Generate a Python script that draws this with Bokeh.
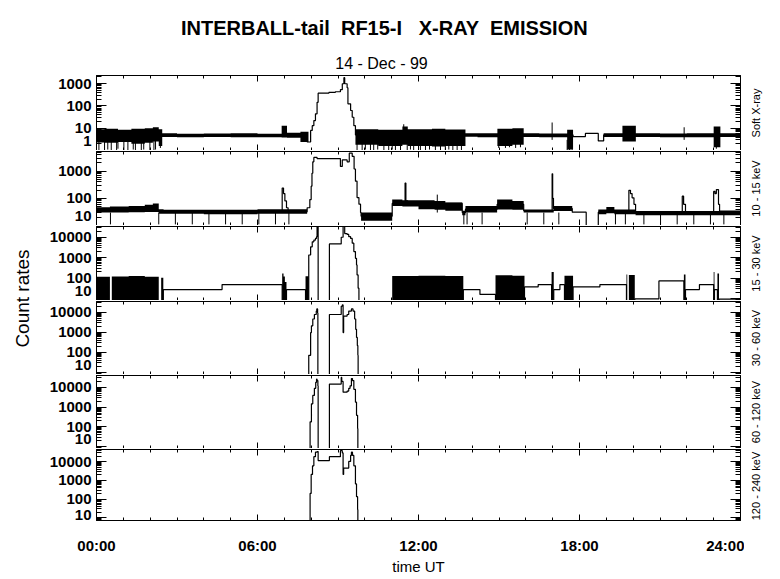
import math
from bokeh.plotting import figure
from bokeh.models import (Range1d, FixedTicker, SingleIntervalTicker, LinearAxis, LogAxis, Label)
from bokeh.layouts import column, row
from bokeh.embed import file_html
from bokeh.resources import INLINE

# ---------------- texts ----------------
title_text = "INTERBALL-tail \u00a0RF15-I \u00a0\u00a0X-RAY \u00a0EMISSION"
date_text = "14 - Dec - 99"
ylabel_text = "Count rates"
xlabel_text = "time UT"
channel_names = ["Soft X-ray", "10 - 15 keV", "15 - 30 keV",
                 "30 - 60 keV", "60 - 120 keV", "120 - 240 keV"]
xtick_vals = [0, 6, 12, 18, 24]
xtick_labels = ["00:00", "06:00", "12:00", "18:00", "24:00"]

# ---------------- axes ranges / ticks ----------------
y_ranges = [(1, 2300), (10, 5300), (8, 33600), (8, 34000), (8, 40000), (7, 46000)]
y_majors = [[1, 10, 100, 1000], [10, 100, 1000], [10, 100, 1000, 10000],
            [10, 100, 1000, 10000], [10, 100, 1000, 10000], [10, 100, 1000, 10000]]

# ---------------- panel 1 : Soft X-ray ----------------
p1_band_t = [0.0, 0.3, 0.8, 1.3, 1.8, 2.1, 2.32, 2.45, 3.0, 4.0, 5.0, 6.0, 6.9, 7.1, 7.6, 7.9,
             9.65, 10.5, 11.4, 11.6, 12.5, 13.0, 13.75, 14.2, 14.94, 15.5, 15.92, 16.5, 17.54,
             17.76, 18.9, 19.6, 20.1, 21.0, 22.0, 23.0, 23.25, 24.0]
p1_band_lo = [2.3, 2.2, 2.4, 2.0, 2.2, 2.5, 1.6, 4.0, 3.9, 4.0, 3.9, 3.9, 3.8, 3.7, 2.4, 1,
              1.8, 1.6, 1.8, 1.6, 1.5, 1.6, 4.1, 3.9, 1.6, 1.8, 4.0, 3.9, 1.1,
              1, 4.0, 2.5, 4.0, 3.9, 3.9, 1.4, 4.0, 4.0]
p1_band_hi = [9, 9.5, 8.5, 9.5, 10, 11, 9, 6.0, 5.7, 5.8, 5.9, 5.7, 13, 6.2, 7, 1,
              9, 8.5, 12, 9, 9.5, 8.8, 6.0, 6.0, 9.5, 10, 6.0, 5.8, 8.5,
              1, 6.0, 13, 6.0, 5.8, 6.0, 12, 6.0, 6.0]
p1_spike_t = [0.09, 0.30, 0.42, 0.55, 0.75, 0.80, 1.02, 1.17, 1.37, 1.45, 1.67, 1.76, 1.99, 2.14,
              2.20, 2.38, 9.71, 9.90, 10.02, 10.21, 10.33, 10.48, 10.71, 10.89, 11.02, 11.14,
              11.33, 11.45, 11.58, 11.70, 11.82, 12.07, 12.26, 12.41, 12.63, 12.82, 13.0, 13.13,
              13.28, 13.44, 13.6, 14.99, 15.24, 15.39, 15.62, 15.8, 16.98, 17.54, 17.63, 17.73,
              21.9, 23.1]
p1_spike_v = [1.05, 1.05, 1.1, 1.05, 1.05, 1.2, 1.05, 1.05, 1.1, 1.05, 1.05, 1.1, 1.05, 1.05,
              1.1, 1.3, 1.05, 1.05, 1.1, 1.05, 1.05, 1.1, 1.05, 1.05, 1.1, 1.05,
              1.05, 15, 1.05, 1.1, 1.05, 1.05, 1.05, 1.1, 1.05, 1.05, 1.05, 1.1,
              1.05, 1.05, 1.05, 1.3, 1.3, 1.4, 1.3, 1.4, 18, 1.05, 1.05, 1.1,
              11, 1.2]
p1_t = [0.0, 7.85, 7.98, 8.04, 8.10, 8.16, 8.22, 8.26, 8.66, 8.9, 9.09, 9.16, 9.22, 9.25, 9.34,
        9.37, 9.47, 9.53, 9.59, 9.65, 17.76, 18.22, 18.7, 18.9, 24.0]
p1_v = [5, 2.4, 7.9, 13, 22, 44, 145, 370, 400, 430, 530, 980, 1830, 980, 650,
        124, 62, 31, 13, 5, 4.2, 5.8, 2.7, 5, 5]

# ---------------- panel 2 : 10 - 15 keV ----------------
p2_band_t = [0.0, 0.5, 1.2, 1.8, 2.1, 2.32, 2.5, 4.0, 6.0, 7.85, 9.86, 11.02, 11.4, 12.0, 12.6,
             13.0, 13.63, 13.75, 14.93, 15.5, 15.92, 17.04, 17.73, 18.7, 19.0, 19.3, 20.09,
             23.2, 24.0]
p2_band_lo = [30, 30, 31, 32, 33, 27, 27, 26, 27, 1, 15, 52, 50, 40, 38,
              35, 24, 30, 39, 38, 30, 34, 1, 26, 28, 26, 24, 24, 24]
p2_band_hi = [47, 50, 52, 58, 65, 40, 38, 38, 40, 1, 30, 90, 85, 85, 80,
              70, 35, 52, 90, 80, 39, 52, 1, 39, 48, 39, 34, 36, 36]
p2_spike_t = [0.52, 2.32, 2.94, 3.57, 4.19, 4.81, 5.43, 6.05, 6.67, 7.17, 12.7, 13.69, 13.81,
              14.37, 16.05, 16.67, 17.23, 19.34, 19.71, 20.4, 21.02, 21.64, 22.26, 22.88, 23.38]
p2_spike_v = [11, 11, 11, 11, 11, 11, 11, 11, 11, 11, 137, 11, 11,
              11, 11, 11, 11, 11, 11, 11, 11, 11, 11, 11, 11]
p2_t = [0.0, 6.88, 6.92, 6.97, 7.02, 7.08, 7.14, 7.85, 7.95, 8.0, 8.03, 8.06, 8.1, 8.22, 9.09,
        9.16, 9.34, 9.42, 9.53, 9.6, 9.65, 9.71, 9.78, 9.84, 9.86, 11.02, 11.48, 11.5, 11.53,
        11.6, 13.63, 13.75, 14.93, 15.92, 16.96, 16.98, 17.0, 17.03, 17.73, 18.25, 18.7, 19.82,
        19.84, 19.9, 19.96, 20.03, 20.09, 21.8, 21.83, 21.88, 21.95, 22.98, 23.0, 23.05, 23.1,
        23.18, 23.22, 24.0]
p2_v = [33, 35, 240, 150, 80, 45, 32, 45, 90, 280, 840, 2200, 3200, 2900, 1500,
        2600, 2200, 4600, 3500, 1200, 430, 107, 61, 30, 22, 65, 70, 366, 80,
        65, 30, 40, 60, 35, 35, 800, 100, 42, 31, 1, 31, 32,
        198, 150, 104, 60, 30, 30, 120, 60, 30, 30, 180, 150, 210,
        60, 30, 30]

# ---------------- panel 3 : 15 - 30 keV ----------------
p3_block_t = [0.0, 0.5, 0.57, 1.2, 1.8, 2.32, 2.41, 2.49, 6.92, 6.97, 7.02, 7.08, 7.79, 7.91,
              11.02, 12.0, 13.0, 13.67, 14.87, 15.5, 15.95, 16.96, 17.04, 17.44, 17.76, 19.75,
              19.78, 19.84, 20.06, 21.89, 21.95, 23.0, 23.03, 23.14, 23.2, 24.0]
p3_block_hi = [115, 1, 120, 125, 118, 1, 105, 1, 166, 120, 65, 1, 123, 1,
               125, 130, 125, 1, 137, 130, 1, 201, 1, 130, 1, 150,
               1, 140, 1, 150, 1, 201, 1, 166, 1, 1]
p3_t = [0.0, 2.49, 4.68, 6.92, 7.08, 7.79, 7.91, 7.98, 8.04, 8.10, 8.16, 8.20, 8.22, 8.26,
        8.68, 9.12, 9.19, 9.25, 9.34, 9.40, 9.47, 9.53, 9.59, 9.65, 9.69, 9.71, 9.75, 9.78,
        13.67, 14.29, 14.87, 15.95, 16.46, 16.96, 17.04, 17.27, 17.44, 17.76, 18.76, 19.75,
        20.06, 20.96, 21.89, 21.95, 22.47, 23.0, 23.03, 23.14, 23.2, 24.0]
p3_v = [1, 27.5, 48, 1, 27.5, 1, 1350, 3400, 6000, 7300, 8800, 10700, 50000, 1,
        4700, 10000, 50000, 15200, 13700, 10700, 8800, 5100, 2000, 930, 440, 143, 32, 1,
        27.5, 15.8, 1, 37, 48, 1, 27.5, 48, 1, 37, 48, 1,
        9.6, 73, 1, 27.5, 48, 1, 27.5, 1, 9.4, 9.4]

# ---------------- panel 4 : 30 - 60 keV ----------------
p4_t = [0.0, 7.91, 7.98, 8.01, 8.06, 8.12, 8.19, 8.21, 8.24, 8.25, 8.68, 9.12, 9.16, 9.19,
        9.21, 9.34, 9.40, 9.50, 9.56, 9.62, 9.66, 9.69, 9.72, 9.74, 9.75, 24.0]
p4_v = [1, 72, 970, 2100, 4600, 7700, 11300, 14500, 9000, 1, 7700, 19700, 23000, 970,
        6400, 7700, 11300, 14500, 11300, 4600, 1400, 560, 220, 72, 1, 1]

# ---------------- panel 5 : 60 - 120 keV ----------------
p5_t = [0.0, 7.96, 8.01, 8.06, 8.12, 8.17, 8.20, 8.22, 8.25, 8.26, 8.68, 9.12, 9.14, 9.19,
        9.34, 9.40, 9.45, 9.50, 9.54, 9.59, 9.65, 9.69, 9.73, 9.74, 24.0]
p5_v = [1, 180, 1470, 3900, 9000, 18000, 26000, 22000, 12000, 1, 14700, 32000, 20000, 5700,
        6500, 9000, 12000, 28000, 22000, 8000, 1780, 385, 83, 1, 1]

# ---------------- panel 6 : 120 - 240 keV ----------------
p6_t = [0.0, 7.96, 8.0, 8.05, 8.1, 8.16, 8.22, 8.26, 8.68, 9.09, 9.16, 9.19, 9.21, 9.34,
        9.40, 9.47, 9.50, 9.54, 9.59, 9.65, 9.69, 9.73, 9.74, 24.0]
p6_v = [1, 200, 2100, 6100, 19000, 33000, 36000, 11700, 19000, 40000, 30000, 2100, 4600, 4600,
        10500, 22000, 33000, 22000, 6100, 650, 133, 27, 1, 1]

# ---------------- layout constants ----------------
FONT = "Liberation Sans"
LEFT_STRIP_W = 44
PANEL_W = 700
RIGHT_STRIP_W = 28
LEFT_B = 52
RIGHT_B = 4
HEAD_H = 74
heights = [76, 75, 75, 74, 74, 129]
bottom_borders = [0, 0, 0, 0, 0, 55]
# pixels by which the lowest tick label of each panel sits above its tick
bottom_label_lift = [10, 10, 8, 8, 8, 3]

xr = Range1d(0, 24)


def tick_style(ax, major_in, minor_in):
    ax.major_tick_in = major_in
    ax.major_tick_out = 0
    ax.minor_tick_in = minor_in
    ax.minor_tick_out = 0
    ax.axis_line_color = "black"
    ax.major_tick_line_color = "black"
    ax.minor_tick_line_color = "black"


def hide_labels(ax, vals):
    ax.major_label_overrides = {v: "" for v in vals}
    ax.major_label_text_font_size = "0px"
    ax.major_label_standoff = 0


def label_font(ax):
    ax.major_label_text_font = FONT
    ax.major_label_text_font_size = "15px"
    ax.major_label_text_font_style = "bold"
    ax.major_label_text_color = "black"
    ax.major_label_standoff = 5


panels = []
for i in range(6):
    lo, hi = y_ranges[i]
    majors = y_majors[i]
    minors = [m * 10.0 ** e for e in range(0, 6) for m in range(2, 10) if lo <= m * 10.0 ** e <= hi]
    last = (i == 5)
    p = figure(width=PANEL_W, height=heights[i], x_range=xr, y_range=Range1d(lo, hi),
               y_axis_type="log", output_backend="svg", toolbar_location=None,
               min_border_left=LEFT_B, min_border_right=RIGHT_B,
               min_border_top=1, min_border_bottom=bottom_borders[i])
    p.grid.visible = False
    p.outline_line_color = None
    p.background_fill_color = "white"
    p.border_fill_color = "white"

    xb = p.xaxis[0]
    xb.ticker = SingleIntervalTicker(interval=6, num_minor_ticks=6)
    tick_style(xb, 6, 3)
    if last:
        xb.major_label_overrides = dict(zip(xtick_vals, xtick_labels))
        xb.major_label_text_font = FONT
        xb.major_label_text_font_size = "15px"
        xb.major_label_text_font_style = "bold"
        xb.major_label_text_color = "black"
        xb.major_label_standoff = 16
        xb.axis_label = xlabel_text
        xb.axis_label_text_font = FONT
        xb.axis_label_text_font_size = "15px"
        xb.axis_label_text_font_style = "normal"
        xb.axis_label_text_color = "black"
        xb.axis_label_standoff = 1
    else:
        hide_labels(xb, xtick_vals)
        xb.axis_line_color = None

    xa = LinearAxis(ticker=SingleIntervalTicker(interval=6, num_minor_ticks=6))
    tick_style(xa, 6, 3)
    hide_labels(xa, xtick_vals)
    p.add_layout(xa, "above")

    # main left axis: every tick mark, no labels (zero width)
    yl = p.yaxis[0]
    yl.ticker = FixedTicker(ticks=majors, minor_ticks=minors)
    tick_style(yl, 10, 5)
    hide_labels(yl, majors)

    # label-only left axis; the lowest decade label is lifted a few pixels above its tick
    frame_h = heights[i] - 1 - bottom_borders[i]
    px_per_decade = frame_h / math.log10(hi / lo)
    lifted = majors[0] * 10 ** (bottom_label_lift[i] / px_per_decade)
    lab = LogAxis(ticker=FixedTicker(ticks=[lifted] + majors[1:], minor_ticks=[]))
    lab.major_tick_in = 0
    lab.major_tick_out = 0
    lab.minor_tick_in = 0
    lab.minor_tick_out = 0
    lab.axis_line_color = None
    lab.major_tick_line_color = None
    lab.minor_tick_line_color = None
    ov = {v: str(v) for v in majors[1:]}
    ov[lifted] = str(majors[0])
    lab.major_label_overrides = ov
    label_font(lab)
    p.add_layout(lab, "left")

    yr = LogAxis(ticker=FixedTicker(ticks=majors, minor_ticks=minors))
    tick_style(yr, 10, 5)
    hide_labels(yr, majors)
    p.add_layout(yr, "right")
    panels.append(p)

K = "black"
panels[0].varea_step(x=p1_band_t, y1=p1_band_lo, y2=p1_band_hi, step_mode="after", fill_color=K)
panels[0].segment(x0=p1_spike_t, y0=p1_spike_v, x1=p1_spike_t, y1=[3.0] * len(p1_spike_t),
                  line_color=K, line_width=1)
panels[0].step(x=p1_t, y=p1_v, mode="after", line_color=K, line_width=1.2)
panels[1].varea_step(x=p2_band_t, y1=p2_band_lo, y2=p2_band_hi, step_mode="after", fill_color=K)
panels[1].segment(x0=p2_spike_t, y0=p2_spike_v, x1=p2_spike_t, y1=[30.0] * len(p2_spike_t),
                  line_color=K, line_width=1)
panels[1].step(x=p2_t, y=p2_v, mode="after", line_color=K, line_width=1.2)
panels[2].varea_step(x=p3_block_t, y1=[1.0] * len(p3_block_t), y2=p3_block_hi,
                     step_mode="after", fill_color=K)
panels[2].step(x=p3_t, y=p3_v, mode="after", line_color=K, line_width=1.2)
panels[3].step(x=p4_t, y=p4_v, mode="after", line_color=K, line_width=1.2)
panels[4].step(x=p5_t, y=p5_v, mode="after", line_color=K, line_width=1.2)
panels[5].step(x=p6_t, y=p6_v, mode="after", line_color=K, line_width=1.2)

TOTAL_W = LEFT_STRIP_W + PANEL_W + RIGHT_STRIP_W
stack_h = sum(heights)


def blank_fig(w, h):
    f = figure(width=w, height=h, x_range=Range1d(0, w), y_range=Range1d(0, h),
               output_backend="svg", toolbar_location=None, x_axis_location=None,
               y_axis_location=None, min_border=0)
    f.grid.visible = False
    f.outline_line_color = None
    f.background_fill_color = "white"
    f.border_fill_color = "white"
    return f


header = blank_fig(TOTAL_W, HEAD_H)
header.add_layout(Label(x=384, y=HEAD_H - 27, text=title_text, text_align="center",
                        text_baseline="middle", text_font=FONT, text_font_size="20px",
                        text_font_style="bold", text_color="black"))
header.add_layout(Label(x=381, y=HEAD_H - 63, text=date_text, text_align="center",
                        text_baseline="middle", text_font=FONT, text_font_size="16px",
                        text_color="black"))

left_strip = blank_fig(LEFT_STRIP_W, stack_h)
left_strip.add_layout(Label(x=22, y=stack_h - 224, text=ylabel_text, angle=math.pi / 2,
                            text_align="center", text_baseline="middle", text_font=FONT,
                            text_font_size="19px", text_color="black"))

right_strip = blank_fig(RIGHT_STRIP_W, stack_h)
top = 0
for i in range(6):
    frame_h = heights[i] - 1 - bottom_borders[i]
    centre_from_top = top + 1 + frame_h / 2
    right_strip.add_layout(Label(x=11, y=stack_h - centre_from_top, text=channel_names[i],
                                 angle=math.pi / 2, text_align="center", text_baseline="middle",
                                 text_font=FONT, text_font_size="11px", text_color="black"))
    top += heights[i]

layout = column(header, row(left_strip, column(*panels), right_strip))
open("out.html", "w").write(file_html(layout, INLINE))
